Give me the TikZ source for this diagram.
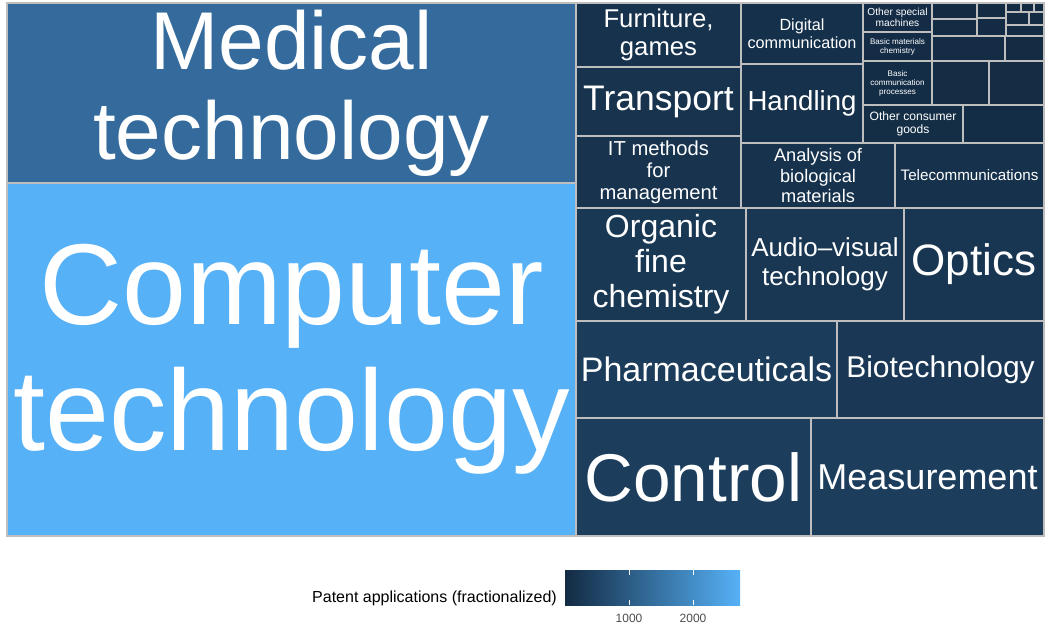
\documentclass[tikz,border=0pt]{standalone}
\usepackage{fontspec}
\setmainfont{Liberation Sans}
\definecolor{lo}{HTML}{132B43}
\definecolor{hi}{HTML}{56B1F7}
\definecolor{midc}{HTML}{346B9C}
\definecolor{bordergray}{HTML}{BEBEBE}
\definecolor{axtext}{HTML}{4D4D4D}
\newcommand\tmfs[1]{\fontsize{#1pt}{\dimexpr #1pt*11/10\relax}\selectfont}
\newcommand\tmcell[5]{\path[cellbox, fill=#5] (#1,#2) rectangle (#3,#4);}
\tikzset{
  cellbox/.style={draw=bordergray, line width=1.2pt},
  lbl/.style={text=white, align=center, inner sep=0pt},
  ticklbl/.style={text=axtext, inner sep=0pt, font=\tmfs{12}},
  tickmark/.style={draw=white, line width=0.8pt},
}
\begin{document}
\begin{tikzpicture}[x=1pt,y=-1pt]
\useasboundingbox (0,0) rectangle (1048,625);
\fill[white] (0,0) rectangle (1048,625);
% big cells
\tmcell{7}{3}{576}{183}{midc}
\tmcell{7}{183}{576}{536}{hi}
% upper right block
\tmcell{576}{3}{741}{67}{hi!5.3!lo}
\tmcell{576}{67}{741}{136}{hi!5.7!lo}
\tmcell{576}{136}{741}{208}{hi!5.9!lo}
\tmcell{741}{3}{863}{64}{hi!3.7!lo}
\tmcell{741}{64}{863}{143}{hi!4.8!lo}
\tmcell{741}{143}{895}{208}{hi!5!lo}
\tmcell{895}{143}{1044}{208}{hi!4.8!lo}
% small cells
\tmcell{863}{3}{932}{32}{hi!1!lo}
\tmcell{863}{32}{932}{61}{hi!1!lo}
\tmcell{863}{61}{932}{105}{hi!1.5!lo}
\tmcell{863}{105}{963}{143}{hi!1.9!lo}
\tmcell{963}{105}{1044}{143}{hi!1.5!lo}
\tmcell{932}{61}{989}{105}{hi!1.2!lo}
\tmcell{989}{61}{1044}{105}{hi!1.2!lo}
\tmcell{932}{36}{1005}{61}{hi!0.9!lo}
\tmcell{1005}{36}{1044}{61}{hi!0.5!lo}
\tmcell{932}{3}{977}{19}{hi!0.4!lo}
\tmcell{932}{19}{977}{36}{hi!0.4!lo}
\tmcell{977}{3}{1006}{18}{hi!0.2!lo}
\tmcell{977}{18}{1006}{36}{hi!0.3!lo}
\tmcell{1006}{3}{1021}{12}{hi!0.1!lo}
\tmcell{1021}{3}{1034}{12}{hi!0.1!lo}
\tmcell{1034}{3}{1044}{12}{lo}
\tmcell{1006}{12}{1029}{25}{hi!0.1!lo}
\tmcell{1029}{12}{1044}{25}{hi!0.1!lo}
\tmcell{1006}{25}{1044}{36}{hi!0.2!lo}
% middle and lower rows
\tmcell{576}{208}{746}{321}{hi!9.5!lo}
\tmcell{746}{208}{904}{321}{hi!8.8!lo}
\tmcell{904}{208}{1044}{321}{hi!7.8!lo}
\tmcell{576}{321}{837}{418}{hi!12.6!lo}
\tmcell{837}{321}{1044}{418}{hi!10!lo}
\tmcell{576}{418}{811}{536}{hi!13.9!lo}
\tmcell{811}{418}{1044}{536}{hi!13.8!lo}
% labels
\node[lbl, font=\tmfs{82}] (medical) at (291.5,93) {Medical\\technology};
\node[lbl, font=\tmfs{115}] (computer) at (291.5,359.5) {Computer\\technology};
\node[lbl, font=\tmfs{25.7}] (furniture) at (658.5,35) {Furniture,\\games};
\node[lbl, font=\tmfs{35.5}] (transport) at (658.5,101.5) {Transport};
\node[lbl, font=\tmfs{20.2}] (itmethods) at (658.5,172) {IT methods\\for\\management};
\node[lbl, font=\tmfs{16.2}] (digital) at (802,33.5) {Digital\\communication};
\node[lbl, font=\tmfs{27.6}] (handling) at (802,103.5) {Handling};
\node[lbl, font=\tmfs{18.2}] (analysis) at (818,175.5) {Analysis of\\biological\\materials};
\node[lbl, font=\tmfs{15.2}] (telecom) at (969.5,175.5) {Telecommunications};
\node[lbl, font=\tmfs{10.2}] (specialmach) at (897.5,17.5) {Other special\\machines};
\node[lbl, font=\tmfs{8.1}] (basicmat) at (897.5,46.5) {Basic materials\\chemistry};
\node[lbl, font=\tmfs{8.1}] (basiccomm) at (897.5,83) {Basic\\communication\\processes};
\node[lbl, font=\tmfs{12.1}] (consumer) at (913,124) {Other consumer\\goods};
\node[lbl, font=\tmfs{32}] (organic) at (661,264.5) {Organic\\fine\\chemistry};
\node[lbl, font=\tmfs{26}] (audio) at (825,264.5) {Audio–visual\\technology};
\node[lbl, font=\tmfs{44}] (optics) at (974,264.5) {Optics};
\node[lbl, font=\tmfs{34}] (pharma) at (706.5,369.5) {Pharmaceuticals};
\node[lbl, font=\tmfs{30}] (biotech) at (940.5,369.5) {Biotechnology};
\node[lbl, font=\tmfs{67.5}] (control) at (693.5,477) {Control};
\node[lbl, font=\tmfs{36}] (measurement) at (927.5,477) {Measurement};
% legend
\node[inner sep=0pt, anchor=east, font=\tmfs{16}] (legtitle) at (557,598) {Patent applications (fractionalized)};
\shade[left color=lo, middle color=midc, right color=hi] (565,570) rectangle (740,605);
\node[inner sep=0pt, minimum width=175pt, minimum height=35pt] (bar) at (652.5,587.5) {};
\coordinate (t1a) at (629,570); \coordinate (t1b) at (629,575);
\coordinate (t1c) at (629,600); \coordinate (t1d) at (629,605);
\coordinate (t2a) at (693,570); \coordinate (t2b) at (693,575);
\coordinate (t2c) at (693,600); \coordinate (t2d) at (693,605);
\draw[tickmark] (t1a) -- (t1b); \draw[tickmark] (t1c) -- (t1d);
\draw[tickmark] (t2a) -- (t2b); \draw[tickmark] (t2c) -- (t2d);
\node[ticklbl] (lab1000) at (629,618) {1000};
\node[ticklbl] (lab2000) at (693,618) {2000};
\end{tikzpicture}
\end{document}
